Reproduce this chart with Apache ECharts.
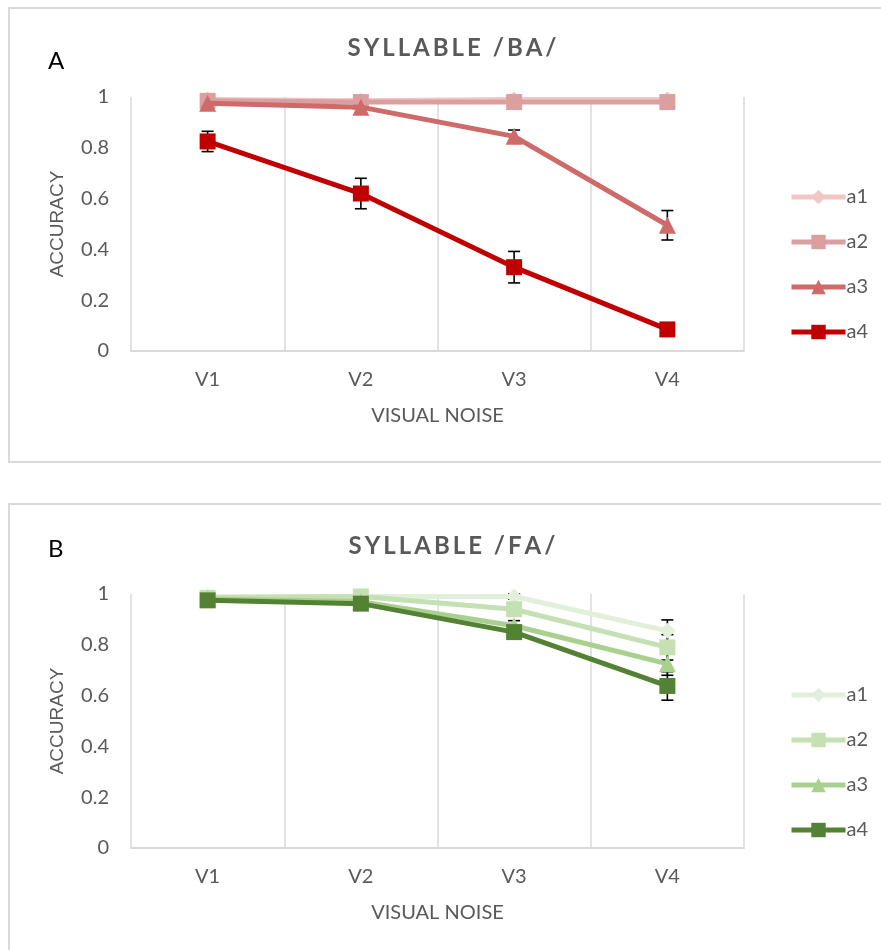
<!DOCTYPE html>
<html>
<head>
<meta charset="utf-8">
<script src="https://cdn.jsdelivr.net/npm/echarts@6/dist/echarts.min.js"></script>
<style>
  html, body { margin: 0; padding: 0; background: #fff; }
  #chartA { position: absolute; left: 0; top: 0; width: 881px; height: 481px; }
  #chartB { position: absolute; left: 0; top: 481px; width: 881px; height: 469px; }
</style>
</head>
<body>
<div id="chartA"></div>
<div id="chartB"></div>
<script>
// categories / tick labels
const categories = ["V1", "V2", "V3", "V4"];
const seriesNames = ["a1", "a2", "a3", "a4"];

// syllable /BA/ accuracy
const baA1 = [0.99, 0.985, 0.99, 0.99];
const baA2 = [0.985, 0.98, 0.98, 0.98];
const baA3 = [0.975, 0.96, 0.845, 0.495];
const baA4 = [0.825, 0.62, 0.33, 0.085];
// error (+/-)
const baErrA1 = [0, 0, 0, 0];
const baErrA2 = [0, 0, 0, 0];
const baErrA3 = [0, 0, 0.025, 0.058];
const baErrA4 = [0.04, 0.06, 0.062, 0.01];

// syllable /FA/ accuracy
const faA1 = [0.99, 0.99, 0.99, 0.855];
const faA2 = [0.985, 0.99, 0.94, 0.79];
const faA3 = [0.98, 0.97, 0.875, 0.725];
const faA4 = [0.975, 0.962, 0.85, 0.638];
const faErrA1 = [0, 0, 0.01, 0.043];
const faErrA2 = [0, 0, 0.015, 0.05];
const faErrA3 = [0, 0, 0.02, 0.045];
const faErrA4 = [0.01, 0.01, 0.02, 0.056];

const redColors = ["#f2c6c6", "#dc9f9f", "#cf6a6a", "#c00000"];
const greenColors = ["#e2efda", "#c5e0b3", "#a9d18e", "#548235"];
const symbols = ["diamond", "rect", "triangle", "rect"];

const FONT = "Lato, 'Open Sans', sans-serif";
const GREY = "#595959";

function spaced(s) {
  return s.split("").join("\u2009");
}

function buildOption(cfg) {
  let series = [];
  cfg.values.forEach((vals, i) => {
    series.push({
      name: seriesNames[i],
      type: "line",
      data: vals,
      symbol: symbols[i],
      symbolSize: i == 2 ? 17 : 16,
      color: cfg.colors[i],
      lineStyle: { width: 5, color: cfg.colors[i] },
      itemStyle: { color: cfg.colors[i] },
      z: 3 + i,
    });
  });
  // error bars, drawn behind markers
  cfg.errors.forEach((errs, i) => {
    let data = [];
    errs.forEach((e, j) => {
      if (e > 0) data.push([j, cfg.values[i][j] - e, cfg.values[i][j] + e]);
    });
    series.push({
      type: "custom",
      z: 2,
      silent: true,
      data: data,
      renderItem: (params, api) => {
        let lo = api.coord([api.value(0), api.value(1)]);
        let hi = api.coord([api.value(0), api.value(2)]);
        let half = 6;
        let st = { stroke: "#000", lineWidth: 1.6 };
        return {
          type: "group",
          children: [
            { type: "line", shape: { x1: hi[0], y1: hi[1], x2: lo[0], y2: lo[1] }, style: st },
            { type: "line", shape: { x1: hi[0] - half, y1: hi[1], x2: hi[0] + half, y2: hi[1] }, style: st },
            { type: "line", shape: { x1: lo[0] - half, y1: lo[1], x2: lo[0] + half, y2: lo[1] }, style: st },
          ],
        };
      },
    });
  });

  return {
    animation: false,
    graphic: [
      {
        type: "rect",
        shape: { x: 9, y: cfg.frameTop, width: 900, height: cfg.frameHeight },
        style: { fill: "none", stroke: "#d9d9d9", lineWidth: 2 },
        silent: true,
      },
    ],
    title: [
      {
        text: spaced(cfg.title),
        left: 447,
        textAlign: "center",
        top: cfg.titleTop,
        textStyle: { fontFamily: FONT, fontSize: 24, fontWeight: "bold", color: GREY },
      },
      {
        text: cfg.letter,
        left: 43,
        top: cfg.letterTop,
        textStyle: { fontFamily: FONT, fontSize: 24, fontWeight: "normal", color: "#000" },
      },
    ],
    legend: {
      data: seriesNames,
      orient: "vertical",
      left: 784,
      top: cfg.legendTop,
      itemWidth: 54,
      itemHeight: 18,
      itemGap: 25,
      lineStyle: { width: 5 },
      textStyle: { fontFamily: FONT, fontSize: 20, lineHeight: 18, color: GREY, padding: [0, 0, 0, -4] },
    },
    grid: { left: 131, right: 137, top: cfg.gridTop, height: 254 },
    xAxis: {
      type: "category",
      data: categories,
      boundaryGap: true,
      axisLine: { lineStyle: { color: "#d9d9d9", width: 2 } },
      axisTick: { show: false },
      splitLine: { show: true, lineStyle: { color: "#d9d9d9", width: 1.5 } },
      axisLabel: { fontFamily: FONT, fontSize: 20, color: GREY, margin: 19 },
      name: "VISUAL NOISE",
      nameLocation: "middle",
      nameGap: 55,
      nameTextStyle: { fontFamily: FONT, fontSize: 20, color: GREY },
    },
    yAxis: {
      type: "value",
      min: 0,
      max: 1,
      interval: 0.2,
      axisLine: { show: false },
      axisTick: { show: false },
      splitLine: { show: false },
      axisLabel: { fontFamily: FONT, fontSize: 20, color: GREY, margin: 22 },
      name: "ACCURACY",
      nameLocation: "middle",
      nameGap: 64,
      nameTextStyle: { fontFamily: "'Liberation Sans', Arial, sans-serif", fontSize: 19, color: GREY },
    },
    series: series,
  };
}

const chartA = echarts.init(document.getElementById("chartA"));
chartA.setOption(
  buildOption({
    title: "SYLLABLE /BA/",
    letter: "A",
    values: [baA1, baA2, baA3, baA4],
    errors: [baErrA1, baErrA2, baErrA3, baErrA4],
    colors: redColors,
    frameTop: 8,
    frameHeight: 454,
    titleTop: 31,
    letterTop: 44,
    legendTop: 182,
    gridTop: 97,
  })
);

const chartB = echarts.init(document.getElementById("chartB"));
chartB.setOption(
  buildOption({
    title: "SYLLABLE /FA/",
    letter: "B",
    values: [faA1, faA2, faA3, faA4],
    errors: [faErrA1, faErrA2, faErrA3, faErrA4],
    colors: greenColors,
    frameTop: 23,
    frameHeight: 500,
    titleTop: 48,
    letterTop: 51,
    legendTop: 199,
    gridTop: 113,
  })
);
</script>
</body>
</html>
